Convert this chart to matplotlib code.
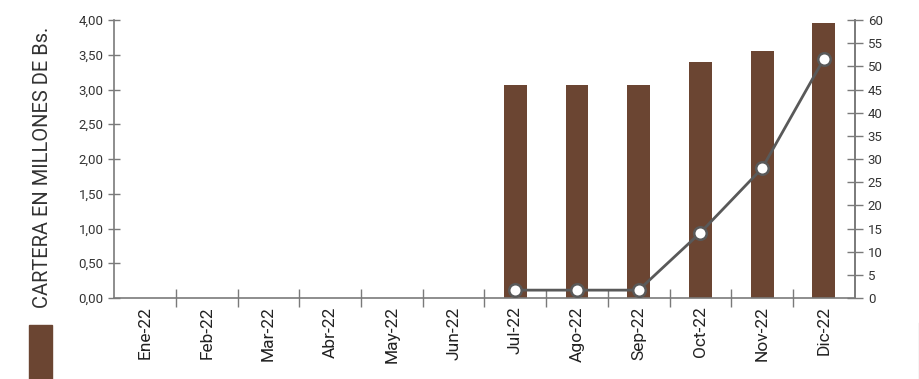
import numpy as np
import matplotlib
matplotlib.use("Agg")
from matplotlib import pyplot as plt
from matplotlib.patches import Rectangle
from matplotlib.lines import Line2D
from matplotlib.ticker import FixedLocator

plt.rcParams['font.family'] = ['Roboto', 'DejaVu Sans']

meses = ["Ene-22", "Feb-22", "Mar-22", "Abr-22", "May-22", "Jun-22",
         "Jul-22", "Ago-22", "Sep-22", "Oct-22", "Nov-22", "Dic-22"]
cartera = [0, 0, 0, 0, 0, 0, 3.06, 3.06, 3.06, 3.40, 3.55, 3.96]
linea_meses = ["Jul-22", "Ago-22", "Sep-22", "Oct-22", "Nov-22", "Dic-22"]
linea_vals = [1.7, 1.7, 1.7, 14.1, 28.0, 51.6]

brown = "#6b4532"
grey = "#7a7a7a"
linecol = "#595959"

fig = plt.figure(figsize=(9.2, 3.79), dpi=100)
ax = fig.add_axes([0.124, 0.2137, 0.805, 0.7335])
x = np.arange(len(meses))
ax.bar(x, cartera, width=0.37, color=brown, zorder=2)
ax.set_xlim(-0.5, 11.5)
ax.set_ylim(0, 4)
ax.set_yticks(np.arange(0, 4.01, 0.5))
ax.set_yticklabels([f"{v:.2f}".replace(".", ",") for v in np.arange(0, 4.01, 0.5)])
ax.set_xticks(x)
ax.set_xticklabels(meses, rotation=90, fontsize=12.5, color="#222222")
ax.xaxis.set_minor_locator(FixedLocator(np.arange(0.5, 11, 1)))
ax.tick_params(axis="x", which="major", length=0, pad=6)
ax.tick_params(axis="x", which="minor", direction="inout", length=13, width=1, color=grey)
ax.tick_params(axis="y", direction="inout", length=9, width=1, color=grey,
               labelsize=9.5, labelcolor="#333333", pad=3)
ax.spines["top"].set_visible(False)
for s in ["left", "bottom", "right"]:
    ax.spines[s].set_color(grey)
    ax.spines[s].set_linewidth(1.2)
ax.set_ylabel("CARTERA EN MILLONES DE Bs.", fontsize=14.5, color="#333333")
ax.yaxis.set_label_coords(-0.0837, 0.47)

ax2 = ax.twinx()
xi = [meses.index(m) for m in linea_meses]
ax2.plot(xi, linea_vals, color=linecol, lw=2, marker="o", markersize=9,
         markerfacecolor="white", markeredgecolor=linecol, markeredgewidth=1.8, zorder=3)
ax2.set_ylim(0, 60)
ax2.set_yticks(np.arange(0, 61, 5))
ax2.tick_params(axis="y", direction="inout", length=11, width=1, color=grey,
                labelsize=9.5, labelcolor="#333333", pad=4)
for s in ["top", "left", "bottom"]:
    ax2.spines[s].set_visible(False)
ax2.spines["right"].set_color(grey)
ax2.spines["right"].set_linewidth(1.2)

# legend remnants
fig.add_artist(Rectangle((29 / 920, 0), 23 / 920, (379 - 325) / 379,
                         transform=fig.transFigure, color=brown))
fig.add_artist(Line2D([919 / 920, 919 / 920], [0, (379 - 323) / 379],
                      transform=fig.transFigure, color="#cccccc", lw=1))

fig.savefig("out.png", dpi=100)
